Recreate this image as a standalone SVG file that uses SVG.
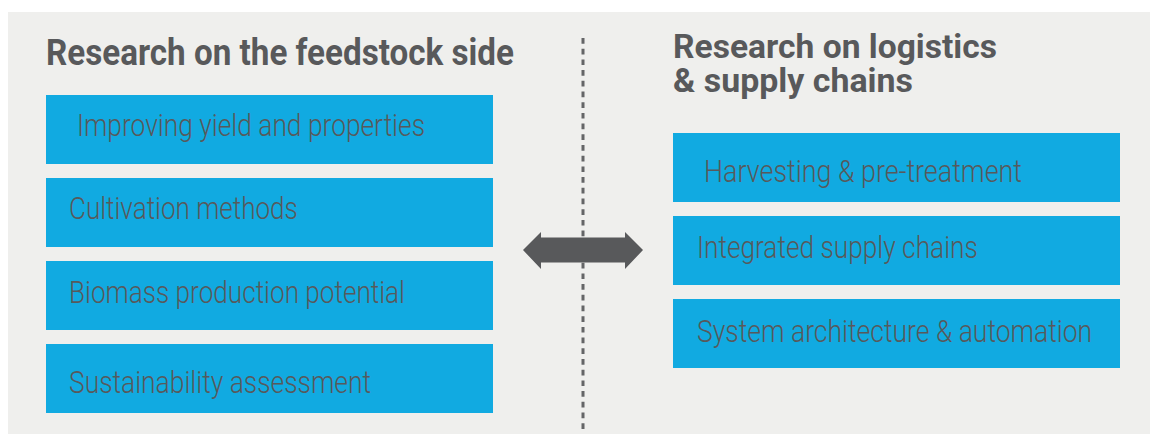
<svg xmlns="http://www.w3.org/2000/svg" width="1150" height="434" viewBox="0 0 1150 434">
<defs>
<style>
.bg{fill:#efefed}
.box{fill:#11aae1}
.lbl{font-family:Roboto,"Liberation Sans",sans-serif;font-weight:300;font-size:32px;fill:#58595b}
.ttl{font-family:Roboto,"Liberation Sans",sans-serif;font-weight:700;fill:#58595b}
.div{stroke:#646567;stroke-width:3;stroke-dasharray:5.7 5}
.arr{fill:#58595b}
</style>
</defs>
<rect width="1150" height="434" fill="#ffffff"/>
<rect class="bg" x="8" y="12" width="1142" height="422"/>
<text class="ttl" transform="translate(46,65) scale(0.85,1)" font-size="37" textLength="550.6" lengthAdjust="spacingAndGlyphs">Research on the feedstock side</text>
<text class="ttl" transform="translate(673,58) scale(0.85,1)" font-size="34" textLength="381.2" lengthAdjust="spacingAndGlyphs">Research on logistics</text>
<text class="ttl" transform="translate(673,92) scale(0.85,1)" font-size="34" textLength="282.4" lengthAdjust="spacingAndGlyphs">&amp; supply chains</text>
<g id="connectors">
<line class="div" x1="583" y1="38" x2="583" y2="430"/>
<path class="arr" d="M523,250 L541,232 L541,237.5 L625,237.5 L625,232 L643,250 L625,269 L625,262.5 L541,262.5 L541,269 Z"/>
</g>
<g id="n1"><rect class="box" x="46" y="95" width="447" height="69"/><text class="lbl" transform="translate(77,136) scale(0.8,1)" textLength="435" lengthAdjust="spacingAndGlyphs">Improving yield and properties</text></g>
<g id="n2"><rect class="box" x="46" y="178" width="447" height="69"/><text class="lbl" transform="translate(69,219) scale(0.8,1)" textLength="286" lengthAdjust="spacingAndGlyphs">Cultivation methods</text></g>
<g id="n3"><rect class="box" x="46" y="261" width="447" height="69"/><text class="lbl" transform="translate(69,303) scale(0.8,1)" textLength="420" lengthAdjust="spacingAndGlyphs">Biomass production potential</text></g>
<g id="n4"><rect class="box" x="46" y="344" width="447" height="69"/><text class="lbl" transform="translate(69,392.5) scale(0.8,1)" textLength="377.5" lengthAdjust="spacingAndGlyphs">Sustainability assessment</text></g>
<g id="n5"><rect class="box" x="673" y="133" width="447" height="69"/><text class="lbl" transform="translate(704,182) scale(0.8,1)" textLength="397.5" lengthAdjust="spacingAndGlyphs">Harvesting &amp; pre-treatment</text></g>
<g id="n6"><rect class="box" x="673" y="216" width="447" height="69"/><text class="lbl" transform="translate(697,258) scale(0.8,1)" textLength="351" lengthAdjust="spacingAndGlyphs">Integrated supply chains</text></g>
<g id="n7"><rect class="box" x="673" y="299" width="447" height="69"/><text class="lbl" transform="translate(697,341.5) scale(0.8,1)" textLength="494" lengthAdjust="spacingAndGlyphs">System architecture &amp; automation</text></g>
</svg>
